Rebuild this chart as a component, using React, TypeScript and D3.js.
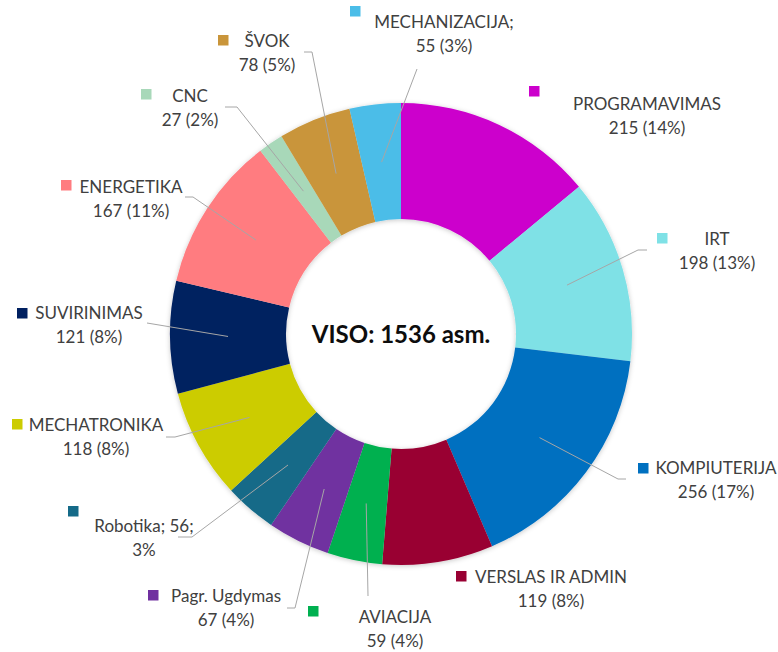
import React from 'react';
import * as d3 from 'd3';

// Categories in clockwise order starting at 12 o'clock
const categories = [
  'PROGRAMAVIMAS', 'IRT', 'KOMPIUTERIJA', 'VERSLAS IR ADMIN', 'AVIACIJA',
  'Pagr. Ugdymas', 'Robotika', 'MECHATRONIKA', 'SUVIRINIMAS', 'ENERGETIKA',
  'CNC', 'ŠVOK', 'MECHANIZACIJA',
];
const values = [215, 198, 256, 119, 59, 67, 56, 118, 121, 167, 27, 78, 55];
const percents = [14, 13, 17, 8, 4, 4, 3, 8, 8, 11, 2, 5, 3];
const colors = [
  '#CC00CC', '#7FE1E6', '#0070C0', '#990033', '#00B050',
  '#7030A0', '#146A88', '#CCCC00', '#002060', '#FF7C80',
  '#A8D8B9', '#C9953A', '#4BBDE8',
];
const totalLabel = 'VISO: 1536 asm.';

// label layout: text centre x, first baseline, legend key top-left, leader points near label
type LabelLayout = { x: number; y: number; key: [number, number]; leader: [number, number][]; fmt?: 'semi' | 'semiAll' };
const labelLayout: LabelLayout[] = [
  { x: 647, y: 110, key: [529, 86], leader: [] },
  { x: 717, y: 245, key: [657, 233], leader: [[647, 250], [638, 250]] },
  { x: 716, y: 474, key: [638, 463], leader: [[626, 479], [618, 479]] },
  { x: 551, y: 583, key: [456, 571], leader: [] },
  { x: 395, y: 623, key: [308, 606], leader: [[368, 596]] },
  { x: 226, y: 602, key: [148, 590], leader: [[287, 608], [295, 608]] },
  { x: 144, y: 532, key: [68, 506], leader: [[178, 537], [192, 537]], fmt: 'semiAll' },
  { x: 96, y: 431, key: [12, 419], leader: [[166, 437], [175, 437]] },
  { x: 89, y: 319, key: [17, 308], leader: [[147, 323]] },
  { x: 131, y: 193, key: [61, 180], leader: [[185, 197], [193, 197]] },
  { x: 190, y: 102, key: [141, 89], leader: [[225, 107], [237, 107]] },
  { x: 267, y: 47, key: [218, 35], leader: [[304, 52], [312, 52]] },
  { x: 444, y: 28, key: [350, 6], leader: [[417, 69]], fmt: 'semi' },
];

const width = 778;
const height = 652;
const cx = 401;
const cy = 334;
const outerR = 231;
const innerR = 115;
const font = 'Lato, "Open Sans", sans-serif';

export default function App() {
  const pie = d3.pie<number>().sort(null).value(d => d)(values);
  const arc = d3.arc<d3.PieArcDatum<number>>().innerRadius(innerR).outerRadius(outerR);
  const line = d3.line();

  return (
    <>
      <style>{'body{margin:0}'}</style>
      <svg width={width} height={height} style={{ display: 'block', background: '#fff' }}>
        <defs>
          <filter id="shadow" x="-20%" y="-20%" width="140%" height="140%">
            <feDropShadow dx="0" dy="1" stdDeviation="2.5" floodColor="#000" floodOpacity="0.22" />
          </filter>
        </defs>
        <g transform={`translate(${cx},${cy})`} filter="url(#shadow)">
          {pie.map((p, i) => (
            <path key={i} d={arc(p) ?? ''} fill={colors[i]} />
          ))}
        </g>
        {pie.map((p, i) => {
          const lay = labelLayout[i];
          if (!lay.leader.length) return null;
          const [mx, my] = arc.centroid(p);
          const pts: [number, number][] = [...lay.leader, [cx + mx, cy + my]];
          return <path key={i} d={line(pts) ?? ''} fill="none" stroke="#A6A6A6" strokeWidth={1} />;
        })}
        <text x={cx} y={cy + 9} textAnchor="middle" fontFamily={font} fontWeight="bold" fontSize={24} fill="#0D0D0D">
          {totalLabel}
        </text>
        {categories.map((name, i) => {
          const lay = labelLayout[i];
          let l1 = name;
          let l2 = `${values[i]} (${percents[i]}%)`;
          if (lay.fmt === 'semi') l1 = `${name};`;
          if (lay.fmt === 'semiAll') {
            l1 = `${name}; ${values[i]};`;
            l2 = `${percents[i]}%`;
          }
          return (
            <g key={i}>
              <rect x={lay.key[0]} y={lay.key[1]} width={10.5} height={10.5} fill={colors[i]} />
              <text textAnchor="middle" fontFamily={font} fontSize={17} fill="#404040">
                <tspan x={lay.x} y={lay.y}>{l1}</tspan>
                <tspan x={lay.x} y={lay.y + 24}>{l2}</tspan>
              </text>
            </g>
          );
        })}
      </svg>
    </>
  );
}
